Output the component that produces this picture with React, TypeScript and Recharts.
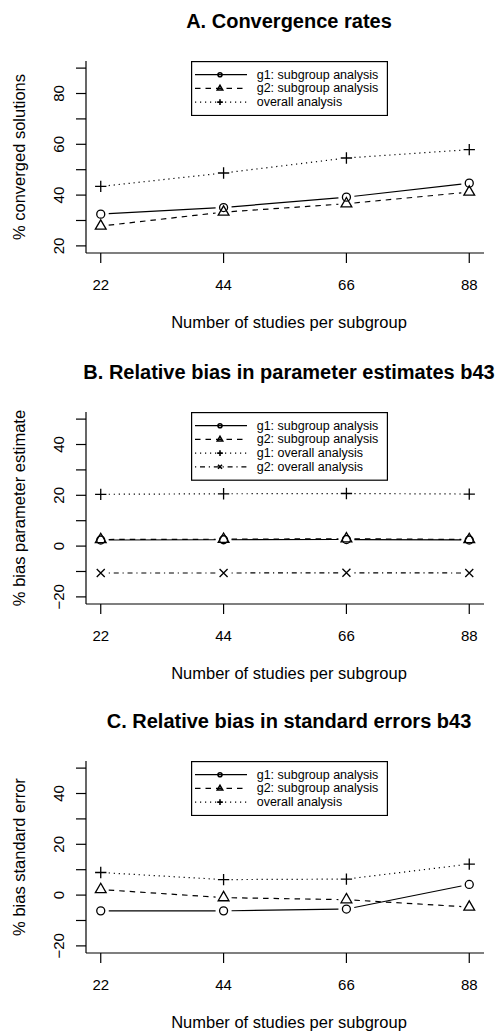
import React from "react";
import { LineChart, Line, XAxis, YAxis, Legend } from "recharts";

const FONT = '"Liberation Sans", Arial, Helvetica, sans-serif';

// x categories (number of studies per subgroup)
const studies = [22, 44, 66, 88];

// A. convergence rates (%)
const convG1 = [32.5, 35.1, 39.2, 44.7];
const convG2 = [27.8, 33.3, 36.6, 41.2];
const convAll = [43.4, 48.7, 54.6, 57.9];

// B. relative bias in parameter estimates b43 (%)
const estG1Sub = [2.4, 2.5, 2.6, 2.4];
const estG2Sub = [2.6, 2.7, 2.9, 2.6];
const estG1All = [20.4, 20.6, 20.7, 20.5];
const estG2All = [-10.6, -10.6, -10.5, -10.6];

// C. relative bias in standard errors b43 (%)
const seG1 = [-6.2, -6.2, -5.5, 4.2];
const seG2 = [2.2, -1.0, -1.8, -4.7];
const seAll = [8.9, 6.1, 6.3, 12.2];

const ticksA = [20, 30, 40, 50, 60, 70, 80, 90];
const ticksBC = [-20, -10, 0, 10, 20, 30, 40, 50];

type Pch = "circle" | "triangle" | "plus" | "cross";
type Series = { key: string; name: string; dash?: string; pch: Pch };

const SOLID = undefined;
const DASHED = "5.5 5";
const DOTTED = "1.2 3.8";
const DOTDASH = "1.2 3.8 5 3.8";

// gap left between a segment end and its point (R type = "b")
const GAP = 8;

function Marker({ cx, cy, pch, s, sw }: { cx: number; cy: number; pch: Pch; s: number; sw: number }) {
  const common = { fill: "none", stroke: "#000", strokeWidth: sw };
  if (pch === "circle") return <circle cx={cx} cy={cy} r={s} {...common} />;
  if (pch === "triangle") {
    const r = 1.555 * s;
    const xc = 1.347 * s;
    const yc = 0.778 * s;
    return (
      <polygon
        points={`${cx},${cy - r} ${cx + xc},${cy + yc} ${cx - xc},${cy + yc}`}
        {...common}
      />
    );
  }
  if (pch === "plus") {
    const d = 1.414 * s;
    return <path d={`M${cx - d},${cy}H${cx + d}M${cx},${cy - d}V${cy + d}`} {...common} />;
  }
  return (
    <path
      d={`M${cx - s},${cy - s}L${cx + s},${cy + s}M${cx - s},${cy + s}L${cx + s},${cy - s}`}
      {...common}
    />
  );
}

function buildRows(cols: Record<string, number[]>) {
  return studies.map((n, i) => {
    const row: Record<string, number> = { n };
    Object.keys(cols).forEach((k) => (row[k] = cols[k][i]));
    return row;
  });
}

interface PanelProps {
  top: number;
  title: string;
  ylabel: string;
  rows: Record<string, number>[];
  series: Series[];
  domain: [number, number];
  ticks: number[];
}

function Panel({ top, title, ylabel, rows, series, domain, ticks }: PanelProps) {
  const legendH = series.length * 13.7 + 14;
  const last: Record<string, { x: number; y: number }> = {};

  const pointDot = (s: Series) => (p: any) => {
    let prev: { x: number; y: number } | null = null;
    if (p.index > 0) {
      const pts = p.points;
      prev = pts && pts[p.index - 1] ? { x: pts[p.index - 1].x, y: pts[p.index - 1].y } : last[s.key];
    }
    last[s.key] = { x: p.cx, y: p.cy };
    let seg = null;
    if (prev) {
      const dx = p.cx - prev.x;
      const dy = p.cy - prev.y;
      const len = Math.hypot(dx, dy);
      if (len > 2 * GAP) {
        const ux = dx / len;
        const uy = dy / len;
        seg = (
          <line
            x1={prev.x + ux * GAP}
            y1={prev.y + uy * GAP}
            x2={p.cx - ux * GAP}
            y2={p.cy - uy * GAP}
            stroke="#000"
            strokeWidth={1.2}
            strokeDasharray={s.dash}
          />
        );
      }
    }
    return (
      <g key={`d-${s.key}-${p.index}`}>
        {seg}
        <Marker cx={p.cx} cy={p.cy} pch={s.pch} s={4} sw={1.3} />
      </g>
    );
  };

  return (
    <div style={{ position: "absolute", left: 0, top, width: 504, height: 333 }}>
      <LineChart
        width={504}
        height={333}
        data={rows}
        margin={{ top: 61, right: 20, left: 0, bottom: 0 }}
      >
        <XAxis
          dataKey="n"
          type="number"
          domain={[19.36, 90.64]}
          ticks={studies}
          interval={0}
          height={80}
          tickSize={10}
          tickMargin={16}
          axisLine={{ stroke: "#000", strokeWidth: 1.2 }}
          tickLine={{ stroke: "#000", strokeWidth: 1.2 }}
          tick={{ fill: "#000", fontSize: 15, fontFamily: FONT }}
          label={() => (
            <g>
              <text
                x={289}
                y={28}
                textAnchor="middle"
                fontSize={20}
                fontWeight="bold"
                fontFamily={FONT}
                fill="#000"
              >
                {title}
              </text>
              <text x={289} y={328} textAnchor="middle" fontSize={16.5} fontFamily={FONT} fill="#000">
                Number of studies per subgroup
              </text>
            </g>
          )}
        />
        <XAxis
          xAxisId="top"
          orientation="top"
          dataKey="n"
          type="number"
          domain={[19.36, 90.64]}
          height={0}
          tick={false}
          tickLine={false}
          axisLine={{ stroke: "#000", strokeWidth: 1.2 }}
        />
        <YAxis
          type="number"
          domain={domain}
          ticks={ticks}
          interval={0}
          width={86}
          tickSize={10}
          axisLine={{ stroke: "#000", strokeWidth: 1.2 }}
          tickLine={{ stroke: "#000", strokeWidth: 1.2 }}
          tick={(p: any) => {
            const v = p.payload.value;
            if (v % 20 !== 0) return <g />;
            return (
              <text
                x={59}
                y={p.y}
                transform={`rotate(-90, 59, ${p.y})`}
                textAnchor="middle"
                dominantBaseline="central"
                fontSize={15}
                fontFamily={FONT}
                fill="#000"
              >
                {v < 0 ? `\u2212${-v}` : v}
              </text>
            );
          }}
          label={() => (
            <text
              x={18.5}
              y={157}
              transform="rotate(-90, 18.5, 157)"
              textAnchor="middle"
              dominantBaseline="central"
              fontSize={16.5}
              fontFamily={FONT}
              fill="#000"
            >
              {ylabel}
            </text>
          )}
        />
        <YAxis
          yAxisId="right"
          orientation="right"
          type="number"
          domain={domain}
          width={0}
          tick={false}
          tickLine={false}
          axisLine={{ stroke: "#000", strokeWidth: 1.2 }}
        />
        {series.map((s) => (
          <Line
            key={`line-${s.key}`}
            dataKey={s.key}
            name={s.name}
            type="linear"
            stroke="none"
            activeDot={false}
            isAnimationActive={false}
            dot={pointDot(s)}
          />
        ))}
        <Legend
          layout="horizontal"
          verticalAlign="middle"
          align="center"
          wrapperStyle={{ left: 191, top: 61, width: 197, height: legendH }}
          content={() => (
            <svg width={197} height={legendH} style={{ display: "block" }}>
              <rect x={0.6} y={0.6} width={195.8} height={legendH - 1.2} fill="#fff" stroke="#000" strokeWidth={1.2} />
              {series.map((s, i) => {
                const y = 13.7 + i * 13.7;
                return (
                  <g key={`lg-${s.key}`}>
                    <line x1={4} x2={56} y1={y} y2={y} stroke="#000" strokeWidth={1.2} strokeDasharray={s.dash} />
                    <Marker cx={29} cy={y} pch={s.pch} s={2} sw={1.6} />
                    <text x={65.7} y={y} dominantBaseline="central" fontSize={12.5} fontFamily={FONT} fill="#000">
                      {s.name}
                    </text>
                  </g>
                );
              })}
            </svg>
          )}
        />
      </LineChart>
    </div>
  );
}

const seriesA: Series[] = [
  { key: "g1", name: "g1: subgroup analysis", dash: SOLID, pch: "circle" },
  { key: "g2", name: "g2: subgroup analysis", dash: DASHED, pch: "triangle" },
  { key: "all", name: "overall analysis", dash: DOTTED, pch: "plus" },
];

const seriesB: Series[] = [
  { key: "g1s", name: "g1: subgroup analysis", dash: SOLID, pch: "circle" },
  { key: "g2s", name: "g2: subgroup analysis", dash: DASHED, pch: "triangle" },
  { key: "g1a", name: "g1: overall analysis", dash: DOTTED, pch: "plus" },
  { key: "g2a", name: "g2: overall analysis", dash: DOTDASH, pch: "cross" },
];

export default function App() {
  const rowsA = buildRows({ g1: convG1, g2: convG2, all: convAll });
  const rowsB = buildRows({ g1s: estG1Sub, g2s: estG2Sub, g1a: estG1All, g2a: estG2All });
  const rowsC = buildRows({ g1: seG1, g2: seG2, all: seAll });

  return (
    <div style={{ position: "absolute", left: 0, top: 0, width: 504, height: 1033, background: "#fff", overflow: "hidden" }}>
      <Panel
        top={0}
        title="A. Convergence rates"
        ylabel="% converged solutions"
        rows={rowsA}
        series={seriesA}
        domain={[17.2, 92.8]}
        ticks={ticksA}
      />
      <Panel
        top={351}
        title="B. Relative bias in parameter estimates b43"
        ylabel="% bias parameter estimate"
        rows={rowsB}
        series={seriesB}
        domain={[-22.8, 52.8]}
        ticks={ticksBC}
      />
      <Panel
        top={700}
        title="C. Relative bias in standard errors b43"
        ylabel="% bias standard error"
        rows={rowsC}
        series={seriesA}
        domain={[-22.8, 52.8]}
        ticks={ticksBC}
      />
    </div>
  );
}
